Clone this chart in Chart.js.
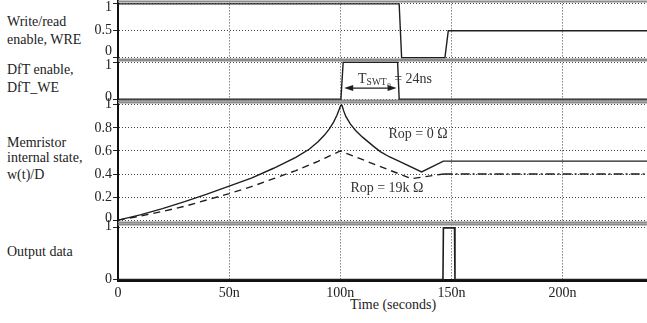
<!DOCTYPE html>
<html><head><meta charset="utf-8">
<script src="https://cdn.jsdelivr.net/npm/chart.js@4"></script>
<style>
html,body{margin:0;padding:0;background:#fff;overflow:hidden;width:647px;height:323px;}
body{position:relative;font-family:"Liberation Serif","Times New Roman","DejaVu Serif",serif;color:#222;}
canvas{position:absolute;left:0;}
.lbl{position:absolute;left:7px;font-size:14px;line-height:16px;white-space:nowrap;}
</style></head><body>
<div class="lbl" style="top:14px">Write/read</div>
<div class="lbl" style="top:32px">enable, WRE</div>
<div class="lbl" style="top:62px">DfT enable,</div>
<div class="lbl" style="top:80px">DfT_WE</div>
<div class="lbl" style="top:135px">Memristor</div>
<div class="lbl" style="top:150px">internal state,</div>
<div class="lbl" style="top:167px">w(t)/D</div>
<div class="lbl" style="top:244px">Output data</div>
<div class="lbl" style="top:297px;left:393px;transform:translateX(-50%)">Time (seconds)</div>
<canvas id="c1"></canvas>
<canvas id="c2"></canvas>
<canvas id="c3"></canvas>
<canvas id="c4"></canvas>
<script>
// ---- data ----
const xTicks = [0, 50, 100, 150, 200];
const xTickLabels = ['0', '50n', '100n', '150n', '200n'];
const xMax = 238;

const wreTicks = [0, 0.5, 1];
const dftTicks = [0, 1];
const stateTicks = [0, 0.2, 0.4, 0.6, 0.8, 1];
const outTicks = [0, 1];

const wreTime  = [0, 126.5, 127.6, 147.1, 148.6, 238];
const wreValue = [1, 1, 0, 0, 0.5, 0.5];

const dftTime  = [0, 100.3, 101.3, 125.8, 126.5, 238];
const dftValue = [0, 0, 1, 1, 0, 0];

const rop0Time  = [0, 10, 20, 30, 40, 50, 60, 70, 80, 86, 90, 93, 95, 97, 98.5, 99.5, 100.2, 100.5, 100.8, 101.5, 102.5, 104.5, 107, 110, 115, 118, 122, 125.4, 136.6, 146.4, 238];
const rop0Value = [0, 0.045, 0.1, 0.16, 0.225, 0.295, 0.365, 0.45, 0.545, 0.615, 0.68, 0.74, 0.79, 0.85, 0.91, 0.96, 0.995, 1.0, 0.995, 0.95, 0.9, 0.835, 0.775, 0.72, 0.64, 0.595, 0.55, 0.52, 0.418, 0.512, 0.512];

const rop19kTime  = [0, 10, 20, 30, 40, 50, 60, 70, 80, 90, 100, 132, 146.5];
const rop19kValue = [0, 0.035, 0.075, 0.12, 0.175, 0.23, 0.29, 0.36, 0.43, 0.51, 0.6, 0.36, 0.4];
const rop19kHoldTime  = [146.5, 238];
const rop19kHoldValue = [0.4, 0.4];

const outTime  = [0, 146.2, 146.4, 151.4, 151.6, 238];
const outValue = [0, 0, 1, 1, 0, 0];

// ---- drawing ----
const FONT = '"Liberation Serif", "Times New Roman", "DejaVu Serif", serif';
const INK = '#1e1e1e';
const pts = (t, v) => t.map((x, i) => ({x: x, y: v[i]}));
const line = (t, v, extra) => Object.assign({data: pts(t, v), borderColor: INK, borderWidth: 1.4, pointRadius: 0, fill: false, tension: 0}, extra || {});

const framePlugin = {
  id: 'frame',
  beforeDatasetsDraw(chart, args, opts) {
    const {ctx, chartArea: a} = chart;
    ctx.save();
    ctx.strokeStyle = '#8c8c8c';
    ctx.lineWidth = 2;
    ctx.beginPath();
    ctx.moveTo(a.left, a.top); ctx.lineTo(a.right, a.top);
    if (opts.bottom) { ctx.moveTo(a.left, a.bottom); ctx.lineTo(a.right, a.bottom); }
    ctx.stroke();
    ctx.restore();
  }
};

// y tick labels drawn with a small nudge for the end ticks (as in the reference)
const yLabelPlugin = {
  id: 'ylabels',
  afterDraw(chart, args, opts) {
    const {ctx, scales: {y}} = chart;
    ctx.save();
    ctx.fillStyle = '#222';
    ctx.font = '14px ' + FONT;
    ctx.textAlign = 'right'; ctx.textBaseline = 'middle';
    const n = y.ticks.length;
    y.ticks.forEach((t, i) => {
      let dy = 0;
      if (i === 0) dy = opts.low; else if (i === n - 1) dy = opts.high;
      ctx.fillText(String(t.value), y.right - 6, y.getPixelForValue(t.value) + dy);
    });
    ctx.restore();
  }
};

const dftNote = {
  id: 'dftNote',
  afterDatasetsDraw(chart) {
    const {ctx, scales: {x, y}} = chart;
    const xa = x.getPixelForValue(101.3), xb = x.getPixelForValue(125.8), ya = y.getPixelForValue(0.3);
    ctx.save();
    ctx.strokeStyle = INK; ctx.fillStyle = INK; ctx.lineWidth = 1.2;
    ctx.beginPath(); ctx.moveTo(xa + 4, ya); ctx.lineTo(xb - 4, ya); ctx.stroke();
    ctx.beginPath(); ctx.moveTo(xa + 1, ya); ctx.lineTo(xa + 10, ya - 3); ctx.lineTo(xa + 10, ya + 3); ctx.closePath(); ctx.fill();
    ctx.beginPath(); ctx.moveTo(xb - 1, ya); ctx.lineTo(xb - 10, ya - 3); ctx.lineTo(xb - 10, ya + 3); ctx.closePath(); ctx.fill();
    ctx.fillStyle = '#333';
    ctx.textBaseline = 'alphabetic'; ctx.textAlign = 'left';
    let px = x.getPixelForValue(108.0);
    const by = y.getPixelForValue(0.45);
    ctx.font = '14px ' + FONT; ctx.fillText('T', px, by); px += ctx.measureText('T').width;
    ctx.font = '9.5px ' + FONT; ctx.fillText('SWT', px, by + 2); px += ctx.measureText('SWT').width + 0.5;
    ctx.font = '7px ' + FONT; ctx.fillText('0', px, by + 4); px += ctx.measureText('0').width;
    ctx.font = '14px ' + FONT; ctx.fillText(' = 24ns', px, by);
    ctx.restore();
  }
};

const stateNote = {
  id: 'stateNote',
  afterDatasetsDraw(chart) {
    const {ctx, scales: {x, y}} = chart;
    ctx.save();
    ctx.fillStyle = '#333';
    ctx.font = '14px ' + FONT;
    ctx.textAlign = 'center'; ctx.textBaseline = 'middle';
    ctx.fillText('Rop = 0 \u03A9', x.getPixelForValue(135), y.getPixelForValue(0.746));
    ctx.fillText('Rop = 19k \u03A9', x.getPixelForValue(121), y.getPixelForValue(0.278));
    ctx.restore();
  }
};

function makeChart(id, area, ticksArr, px1, px0, datasets, isBottom, nudge, extra) {
  const cv = document.getElementById(id);
  const axisH = isBottom ? 32 : 0;
  const h = area[1] - area[0] + 20 + axisH;
  cv.width = 647; cv.height = h;
  cv.style.width = '647px'; cv.style.height = h + 'px';
  cv.style.top = (area[0] - 10) + 'px';
  const per = px0 - px1;
  const yMax = 1 + (px1 - area[0]) / per;
  const yMin = -(area[1] - px0) / per;
  return new Chart(cv, {
    type: 'line',
    data: {datasets: datasets},
    options: {
      animation: false, responsive: false, events: [],
      layout: {padding: {top: 10, bottom: 10, left: 0, right: 0}},
      plugins: {legend: {display: false}, tooltip: {enabled: false}, frame: {bottom: !isBottom}, ylabels: nudge},
      scales: {
        x: {
          type: 'linear', min: 0, max: xMax,
          afterBuildTicks: s => { s.ticks = xTicks.map(v => ({value: v})); },
          afterFit: s => { s.height = axisH; },
          ticks: {display: isBottom, autoSkip: false, maxRotation: 0, padding: 5, color: '#222',
                  font: {family: FONT, size: 14}, callback: v => xTickLabels[xTicks.indexOf(v)]},
          grid: {color: '#444', lineWidth: 1, drawTicks: false},
          border: {display: isBottom, color: '#111', width: 3, dash: [1, 2]}
        },
        y: {
          type: 'linear', min: yMin, max: yMax,
          afterBuildTicks: s => { s.ticks = ticksArr.map(v => ({value: v})); },
          afterFit: s => { s.width = 118; },
          ticks: {autoSkip: false, padding: 2, color: 'rgba(0,0,0,0)', font: {family: FONT, size: 14}, callback: v => String(v)},
          grid: {color: '#444', lineWidth: 1, tickLength: 5, tickColor: '#222', tickWidth: 1},
          border: {display: true, color: '#111', width: 2, dash: [1, 2]}
        }
      }
    },
    plugins: [framePlugin, yLabelPlugin].concat(extra || [])
  });
}

makeChart('c1', [1, 60], wreTicks, 3.5, 58, [line(wreTime, wreValue)], false, {low: -6, high: 3});
makeChart('c2', [60, 101], dftTicks, 62, 99.5, [line(dftTime, dftValue)], false, {low: -1.5, high: 3}, [dftNote]);
makeChart('c3', [102, 223], stateTicks, 104.5, 220.5, [
  line(rop0Time, rop0Value),
  line(rop19kTime, rop19kValue, {borderDash: [7, 5]}),
  line(rop19kHoldTime, rop19kHoldValue, {borderDash: [9, 3, 2, 3]})
], false, {low: -2, high: -1}, [stateNote]);
makeChart('c4', [224, 280], outTicks, 227.5, 279.5, [line(outTime, outValue, {borderWidth: 1.6})], true, {low: 0, high: -2}, []);
</script>
</body></html>
